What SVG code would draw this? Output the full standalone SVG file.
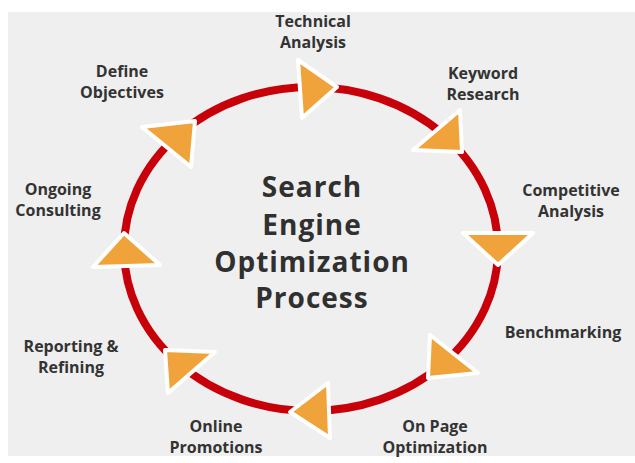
<svg xmlns="http://www.w3.org/2000/svg" width="635" height="463" viewBox="0 0 635 463">
  <style>
    .lbl { font-family: "Open Sans", "Liberation Sans", sans-serif; font-weight: 700; font-size: 16px; fill: #333333; text-anchor: middle; }
    .title { font-family: "Open Sans", "Liberation Sans", sans-serif; font-weight: 700; font-size: 28px; fill: #303030; text-anchor: middle; letter-spacing: 1px; }
    .arrow { fill: #f0a33a; stroke: #ffffff; stroke-width: 4; stroke-linejoin: round; }
    .ring { fill: none; stroke: #c8000a; stroke-width: 8; }
  </style>
  <rect x="0" y="0" width="635" height="463" fill="#ffffff"/>
  <rect x="8" y="12" width="627" height="444" fill="#efefef"/>

  <g id="connectors">
    <ellipse class="ring" cx="311" cy="249" rx="187" ry="162"/>
  </g>

  <g id="title">
    <text class="title" x="312" y="197">Search</text>
    <text class="title" x="312" y="235">Engine</text>
    <text class="title" x="312" y="272">Optimization</text>
    <text class="title" x="312" y="308">Process</text>
  </g>

  <g id="technical-analysis">
    <polygon class="arrow" points="298,60 337,87 302,118"/>
    <text class="lbl" x="313" y="27">Technical</text>
    <text class="lbl" x="313" y="48">Analysis</text>
  </g>

  <g id="keyword-research">
    <polygon class="arrow" points="460,110 462,152 413,150"/>
    <text class="lbl" x="483" y="79">Keyword</text>
    <text class="lbl" x="483" y="100">Research</text>
  </g>

  <g id="competitive-analysis">
    <polygon class="arrow" points="463,233 533,233 498,265"/>
    <text class="lbl" x="571" y="196">Competitive</text>
    <text class="lbl" x="571" y="217">Analysis</text>
  </g>

  <g id="benchmarking">
    <text class="lbl" x="563" y="338">Benchmarking</text>
  </g>

  <g id="on-page-optimization">
    <polygon class="arrow" points="430,335 478,373 428,378"/>
    <text class="lbl" x="435" y="432">On Page</text>
    <text class="lbl" x="435" y="453">Optimization</text>
  </g>

  <g id="online-promotions">
    <polygon class="arrow" points="328,383 290,412 330,438"/>
    <text class="lbl" x="216" y="432">Online</text>
    <text class="lbl" x="216" y="453">Promotions</text>
  </g>

  <g id="reporting-refining">
    <polygon class="arrow" points="165,350 215,352 168,393"/>
    <text class="lbl" x="71" y="352">Reporting &amp;</text>
    <text class="lbl" x="71" y="373">Refining</text>
  </g>

  <g id="ongoing-consulting">
    <polygon class="arrow" points="124,233 93,267 160,265"/>
    <text class="lbl" x="58" y="195">Ongoing</text>
    <text class="lbl" x="58" y="216">Consulting</text>
  </g>

  <g id="define-objectives">
    <polygon class="arrow" points="142,127 195,121 191,167"/>
    <text class="lbl" x="122" y="77">Define</text>
    <text class="lbl" x="122" y="98">Objectives</text>
  </g>
</svg>
